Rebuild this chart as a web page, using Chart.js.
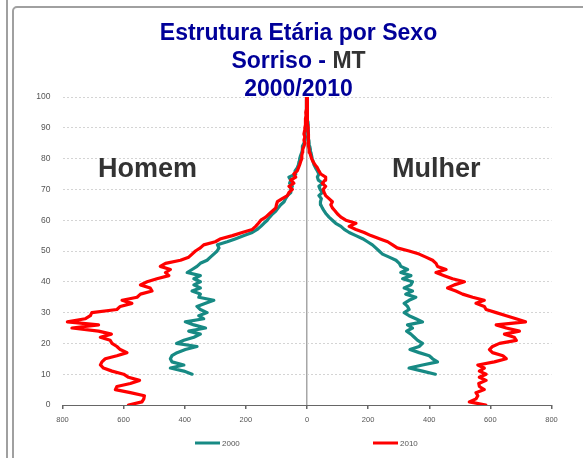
<!DOCTYPE html>
<html>
<head>
<meta charset="utf-8">
<title>Estrutura Etária por Sexo - Sorriso MT</title>
<script src="https://cdn.jsdelivr.net/npm/chart.js@4.4.1/dist/chart.umd.min.js"></script>
<style>
  html, body { margin: 0; padding: 0; background: #fff; }
  #wrap { position: relative; width: 583px; height: 458px; overflow: hidden; }
  .edge { position: absolute; left: 6px; top: 0; width: 2px; height: 458px; background: #a0a0a0; }
  .frame { position: absolute; left: 12px; top: 6px; width: 620px; height: 500px;
           border: 2px solid #a0a0a0; border-radius: 5px; box-sizing: border-box; }
  #piramide { position: absolute; left: 0; top: 0; }
</style>
</head>
<body>
<div id="wrap">
  <div class="edge"></div>
  <div class="frame"></div>
  <canvas id="piramide" width="583" height="458"></canvas>
</div>
<script>
// idades simples 0..100 (2000 começa aos 10 anos)
const idades2010 = Array.from({ length: 101 }, (_, i) => i);
const idades2000 = idades2010.slice(10);

const homem2010 = [
  584, 540, 534, 532, 578, 627, 622, 578, 548, 584,
  600, 638, 666, 676, 671, 660, 622, 589, 611, 622,
  638, 644, 676, 640, 682, 769, 682, 784, 726, 709,
  704, 622, 611, 573, 605, 556, 545, 507, 513, 545,
  523, 491, 452, 463, 447, 480, 463, 414, 387, 376,
  365, 349, 338, 300, 282, 244, 212, 179, 168, 159,
  151, 135, 124, 113, 102, 100, 97, 81, 64, 59,
  48, 59, 43, 53, 37, 43, 32, 28, 24, 21,
  17, 17, 15, 14, 10, 7, 10, 7, 10, 8,
  7, 5, 6, 4, 3, 4, 2, 3, 2, 1, 1
];
const mulher2010 = [
  585, 531, 553, 559, 553, 580, 564, 562, 586, 564,
  586, 564, 580, 559, 613, 652, 641, 607, 597, 607,
  630, 685, 678, 646, 695, 652, 619, 715, 684, 652,
  619, 586, 580, 553, 580, 542, 509, 487, 460, 482,
  515, 476, 449, 422, 455, 427, 422, 411, 389, 367,
  334, 295, 280, 264, 237, 209, 187, 160, 138, 160,
  127, 111, 100, 92, 83, 78, 83, 72, 61, 56,
  53, 61, 50, 59, 61, 45, 39, 34, 26, 20,
  15, 12, 9, 7, 5, 4, 6, 4, 5, 3,
  4, 2, 3, 2, 1, 2, 1, 1, 0, 1, 1
];
const homem2000 = [
  376, 403, 447, 403, 442, 447, 442, 425, 398, 360,
  427, 403, 370, 349, 387, 332, 370, 398, 338, 354,
  327, 349, 360, 332, 305, 354, 349, 376, 349, 370,
  349, 370, 349, 392, 376, 360, 349, 327, 316, 305,
  294, 288, 293, 261, 233, 206, 179, 163, 151, 141,
  130, 122, 113, 102, 94, 86, 75, 70, 64, 53,
  53, 48, 57, 53, 59, 37, 39, 32, 28, 26,
  24, 21, 17, 15, 15, 10, 7, 5, 7, 5,
  3, 4, 3, 2, 3, 2, 1, 2, 1, 1, 0
];
const mulher2000 = [
  420, 378, 334, 378, 427, 411, 400, 367, 337, 367,
  378, 362, 351, 340, 326, 345, 329, 378, 356, 334,
  318, 334, 329, 318, 334, 356, 323, 345, 318, 340,
  345, 313, 340, 307, 329, 307, 302, 291, 269, 247,
  236, 225, 214, 198, 182, 160, 138, 122, 111, 94,
  83, 72, 63, 56, 50, 45, 44, 47, 39, 50,
  43, 39, 52, 37, 34, 39, 34, 28, 23, 20,
  17, 15, 13, 11, 9, 7, 6, 5, 4, 5,
  3, 4, 3, 2, 2, 1, 2, 1, 1, 0, 1
];

const xTicks = [-800, -600, -400, -200, 0, 200, 400, 600, 800];
const anos = ['2000', '2010'];

const cor2000 = '#178a84';
const cor2010 = '#ff0000';

// homens ficam no lado negativo do eixo x
function pontos(idades, valores, lado) {
  return valores.map((v, i) => ({ x: lado * v, y: idades[i] }));
}

function linha(label, data, cor) {
  return {
    label: label,
    data: data,
    showLine: true,
    borderColor: cor,
    backgroundColor: cor,
    borderWidth: 3.2,
    borderJoinStyle: 'round',
    borderCapStyle: 'round',
    pointRadius: 0,
    pointHoverRadius: 0,
    tension: 0,
    fill: false
  };
}

// 2010 primeiro para ficar por cima
const datasets = [
  linha(anos[1], pontos(idades2010, homem2010, -1), cor2010),
  linha(anos[1], pontos(idades2010, mulher2010, 1), cor2010),
  linha(anos[0], pontos(idades2000, homem2000, -1), cor2000),
  linha(anos[0], pontos(idades2000, mulher2000, 1), cor2000)
];

const fonte = '"Liberation Sans", Arial, sans-serif';

// titulo, rotulos Homem/Mulher e legenda desenhados no canvas
const textos = {
  id: 'textos',
  afterDraw(chart) {
    const ctx = chart.ctx;
    ctx.save();
    ctx.textBaseline = 'alphabetic';

    const cx = 298.5;
    const azul = '#000099';
    ctx.font = 'bold 23px ' + fonte;
    ctx.fillStyle = azul;
    ctx.textAlign = 'center';
    ctx.fillText('Estrutura Etária por Sexo', cx, 40);
    ctx.fillText('2000/2010', cx, 96);

    // segunda linha: "MT" em cinza
    const p1 = 'Sorriso - ';
    const p2 = 'MT';
    const w1 = ctx.measureText(p1).width;
    const w2 = ctx.measureText(p2).width;
    let x0 = cx - (w1 + w2) / 2;
    ctx.textAlign = 'left';
    ctx.fillStyle = azul;
    ctx.fillText(p1, x0, 68);
    ctx.fillStyle = '#333333';
    ctx.fillText(p2, x0 + w1, 68);

    ctx.font = 'bold 27px ' + fonte;
    ctx.fillStyle = '#333333';
    ctx.fillText('Homem', 98, 177);
    ctx.fillText('Mulher', 392, 177);

    // legenda
    const itens = [
      { texto: anos[0], cor: chart.data.datasets[2].borderColor, x: 195 },
      { texto: anos[1], cor: chart.data.datasets[0].borderColor, x: 373 }
    ];
    ctx.font = '8px ' + fonte;
    ctx.textBaseline = 'middle';
    itens.forEach(it => {
      ctx.strokeStyle = it.cor;
      ctx.lineWidth = 3;
      ctx.beginPath();
      ctx.moveTo(it.x, 443);
      ctx.lineTo(it.x + 25, 443);
      ctx.stroke();
      ctx.fillStyle = '#555555';
      ctx.fillText(it.texto, it.x + 27, 443.5);
    });
    ctx.restore();
  }
};

new Chart(document.getElementById('piramide'), {
  type: 'scatter',
  data: { datasets: datasets },
  options: {
    responsive: false,
    animation: false,
    layout: { padding: { left: 22.5, right: 31.5, top: 97, bottom: 33 } },
    plugins: {
      legend: { display: false },
      title: { display: false },
      tooltip: { enabled: false }
    },
    scales: {
      x: {
        type: 'linear',
        min: xTicks[0],
        max: xTicks[xTicks.length - 1],
        afterFit: s => { s.height = 20; },
        afterBuildTicks: s => { s.ticks = xTicks.map(v => ({ value: v })); },
        ticks: {
          callback: v => Math.abs(v),
          color: '#555555',
          font: { family: fonte, size: 7.5 },
          padding: 6,
          maxRotation: 0
        },
        grid: {
          color: c => (c.tick && c.tick.value === 0) ? '#a6a6a6' : 'rgba(0,0,0,0)',
          lineWidth: 1.5,
          tickColor: '#666666',
          tickLength: 4
        },
        border: { display: true, color: '#666666', width: 1 }
      },
      y: {
        type: 'linear',
        min: 0,
        max: 100,
        afterFit: s => { s.width = 40; },
        ticks: {
          stepSize: 10,
          color: '#555555',
          font: { family: fonte, size: 8.5 },
          padding: 12
        },
        grid: { color: '#d4d4d4', lineWidth: 1, drawTicks: false },
        border: { display: false, dash: [2, 2] }
      }
    }
  },
  plugins: [textos]
});
</script>
</body>
</html>
